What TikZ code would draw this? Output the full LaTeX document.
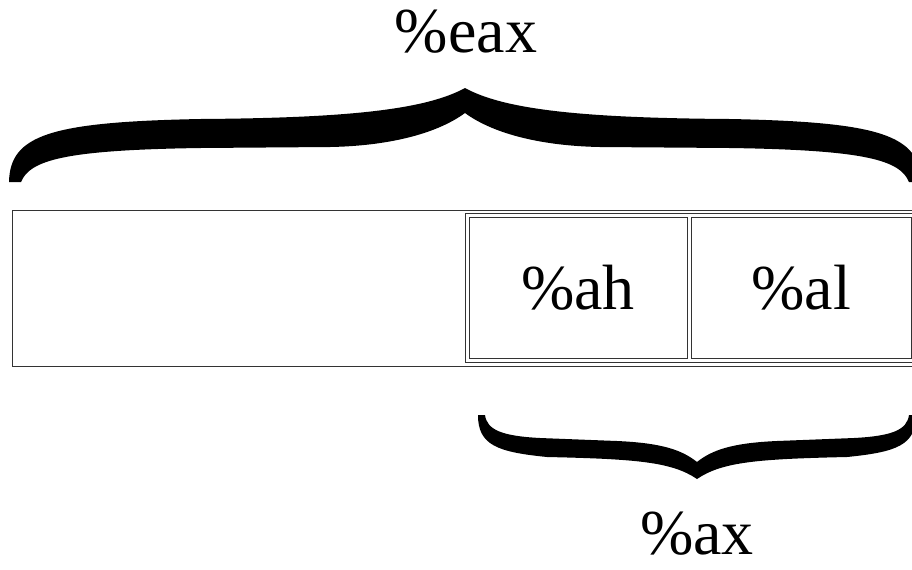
\documentclass[tikz,border=0pt]{standalone}
\usepackage{fontspec}
\setmainfont{Liberation Serif}
\usetikzlibrary{positioning}

\begin{document}
\begin{tikzpicture}[x=0.5pt,y=-0.5pt,
  reg/.style={font=\fontsize{32}{38}\selectfont},
  frame/.style={draw=black!80,line width=0.5pt},
  cell/.style={frame,reg,inner sep=0pt,minimum height=70.5pt}]
\useasboundingbox (0,0) rectangle (912,569);
\draw[frame] (12,210) rectangle (930,366.5);
\draw[frame] (465,213.5) rectangle (930,362.5);
\node[cell,minimum width=109pt] (ah) at (578,288) {\%ah};
\node[cell,minimum width=110pt] (al) at (801.2,288) {\%al};
% braces
\fill (9,182) .. controls (10,135) and (50,122) .. (200,119)
  .. controls (345,118) and (425,110) .. (465,88)
  .. controls (505,110) and (585,118) .. (730,119)
  .. controls (880,122) and (920,135) .. (921,182) -- (909,182)
  .. controls (900,160) and (865,150) .. (730,148) -- (600,147)
  .. controls (545,146) and (495,135) .. (465,113)
  .. controls (435,135) and (385,146) .. (330,147) -- (200,148)
  .. controls (65,150) and (30,160) .. (21,182) -- cycle;
\fill (478,415) .. controls (478,445) and (497,452) .. (547,457)
  .. controls (637,459) and (672,462) .. (697,479)
  .. controls (722,462) and (757,459) .. (847,457)
  .. controls (897,452) and (916,445) .. (916,415) -- (909,415)
  .. controls (907,430) and (892,436) .. (854,438) -- (777,441)
  .. controls (732,443) and (712,450) .. (697,462)
  .. controls (682,450) and (662,443) .. (617,441) -- (540,438)
  .. controls (502,436) and (487,430) .. (485,415) -- cycle;
\node[reg,anchor=base] (eax) at (466,52) {\%eax};
\node[reg,anchor=base] (ax) at (697,554) {\%ax};
\end{tikzpicture}
\end{document}
